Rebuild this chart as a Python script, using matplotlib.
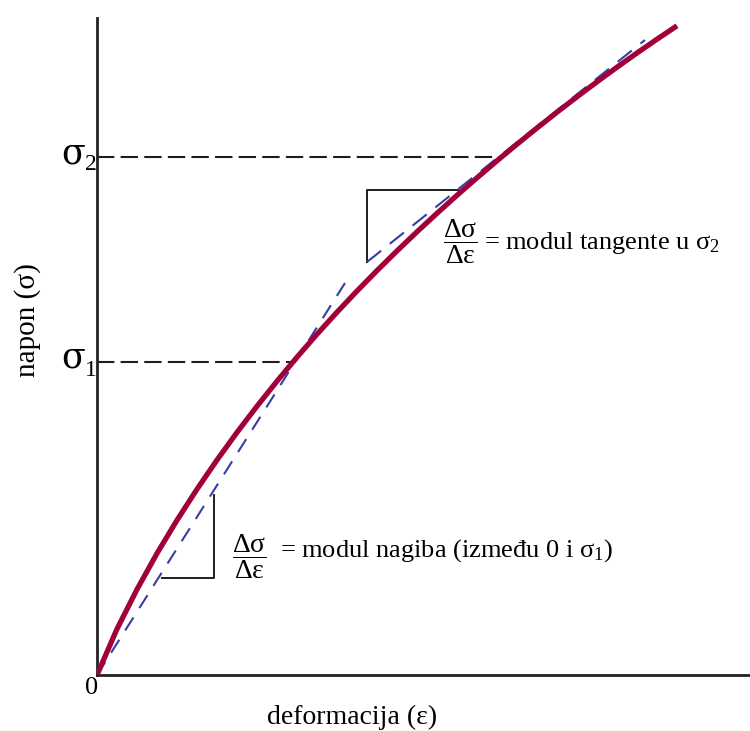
import matplotlib
matplotlib.use("Agg")
import matplotlib.pyplot as plt

plt.rcParams["font.family"] = ["Liberation Serif", "DejaVu Serif"]
plt.rcParams["mathtext.fontset"] = "custom"
plt.rcParams["mathtext.rm"] = "Liberation Serif"
plt.rcParams["mathtext.it"] = "Liberation Serif:italic"
plt.rcParams["lines.scale_dashes"] = False

# stress-strain curve (arbitrary units)
strain = [0, 20, 40, 60, 80, 100, 120, 140, 160, 180, 200, 220, 240, 260,
          280, 300, 320, 340, 360, 380, 400, 420, 440, 460, 480, 500, 520,
          540, 560, 580]
stress = [0, 46, 85.6, 121.6, 154.8, 185.8, 215, 242.6, 268.8, 293.8, 317.8,
          340.8, 362.8, 384, 404.4, 424.1, 443.2, 461.7, 479.7, 497.2, 514.2,
          530.8, 547, 562.8, 578.2, 593.2, 607.8, 622, 635.8, 649.2]

# reference stress levels
sigma1_strain, sigma1 = 196, 313
sigma2_strain, sigma2 = 405, 518

# secant line (origin through sigma1) and tangent line at sigma2
secant_x = [0, 248]
secant_y = [0, 392]
tangent_x = [270, 548]
tangent_y = [413, 635]

# slope triangles
tri1_x = [65, 117, 117]
tri1_y = [97, 97, 180]
tri2_x = [270, 270, 361]
tri2_y = [413, 485, 485]

XMAX, YMAX = 653, 657

fig = plt.figure(figsize=(7.5, 7.31), dpi=100)
ax = fig.add_axes([97 / 750, 56 / 731, 653 / 750, 657 / 731])
ax.set_xlim(0, XMAX)
ax.set_ylim(0, YMAX)

for side in ("top", "right"):
    ax.spines[side].set_visible(False)
for side in ("left", "bottom"):
    ax.spines[side].set_linewidth(2.0)
    ax.spines[side].set_color("#222222")
ax.set_xticks([])
ax.set_yticks([])

ink = "#1e1e1e"
curve_col = "#a1003a"
blue = "#363ea6"

# horizontal dashed guides at sigma1 and sigma2
ax.plot([0, sigma1_strain], [sigma1, sigma1], color=ink, lw=1.5,
        dashes=(12.5, 4.5), zorder=2)
ax.plot([0, sigma2_strain], [sigma2, sigma2], color=ink, lw=1.5,
        dashes=(12.5, 4.5), zorder=2)

# slope triangles
ax.plot(tri1_x, tri1_y, color=ink, lw=1.4, zorder=2)
ax.plot(tri2_x, tri2_y, color=ink, lw=1.4, zorder=2)

# secant and tangent
ax.plot(secant_x, secant_y, color=blue, lw=1.5, dashes=(11, 8), zorder=3)
ax.plot(tangent_x, tangent_y, color=blue, lw=1.5, dashes=(13, 8), zorder=3)

# main curve
ax.plot(strain, stress, color=curve_col, lw=3.8, solid_capstyle="butt",
        solid_joinstyle="round", zorder=4)

# axis labels
fig.text(352 / 750, 1 - 717 / 731, "deformacija (ε)", fontsize=20,
         ha="center", va="center")
fig.text(28 / 750, 1 - 320 / 731, "napon (σ)", fontsize=21,
         ha="center", va="center", rotation=90)
fig.text(92 / 750, 1 - 688 / 731, "0", fontsize=19, ha="center",
         va="center")

# sigma level labels
for level, sub in ((sigma2, "2"), (sigma1, "1")):
    ax.text(-12, level + 4, "σ", fontsize=25, family="DejaVu Serif",
            ha="right", va="center", clip_on=False)
    ax.text(-12, level - 8, sub, fontsize=17, ha="left", va="center",
            clip_on=False)

# slope annotations
ax.text(346, 433, r"$\dfrac{\mathrm{Δσ}}{\mathrm{Δε}}$", fontsize=20,
        ha="left", va="center")
ax.text(387, 432, r"= modul tangente u $\mathrm{σ}_2$", fontsize=19,
        ha="left", va="center")
ax.text(135, 118, r"$\dfrac{\mathrm{Δσ}}{\mathrm{Δε}}$", fontsize=20,
        ha="left", va="center")
ax.text(183, 124, r"= modul nagiba (između 0 i $\mathrm{σ}_1$)",
        fontsize=19, ha="left", va="center")

fig.savefig("out.png", dpi=100)
